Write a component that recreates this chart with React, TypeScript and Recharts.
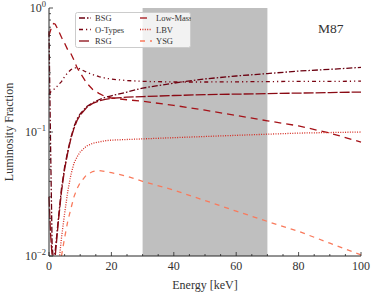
import { LineChart, Line, XAxis, YAxis, ReferenceArea, Legend } from "recharts";

const energies = [0, 0.5, 1, 1.5, 2, 3, 4, 5, 6, 7, 8, 9, 10, 12, 14, 16, 18, 20, 25, 30, 40, 50, 60, 70, 80, 90, 100];

const bsg = [0.65, 0.08, 0.012, 0.009, 0.011, 0.02, 0.035, 0.052, 0.07, 0.09, 0.11, 0.128, 0.14, 0.16, 0.172, 0.182, 0.19, 0.196, 0.21, 0.226, 0.248, 0.268, 0.283, 0.296, 0.31, 0.32, 0.332];
const oTypes = [0.2, 0.21, 0.215, 0.22, 0.225, 0.24, 0.255, 0.28, 0.3, 0.318, 0.328, 0.33, 0.322, 0.304, 0.29, 0.28, 0.272, 0.267, 0.26, 0.256, 0.253, 0.253, 0.254, 0.255, 0.256, 0.256, 0.257];
const rsg = [0.03, 0.015, 0.01, 0.009, 0.01, 0.019, 0.033, 0.05, 0.068, 0.088, 0.107, 0.124, 0.137, 0.157, 0.17, 0.178, 0.183, 0.187, 0.191, 0.193, 0.197, 0.2, 0.202, 0.204, 0.206, 0.208, 0.21];
const lowMass = [0.6, 0.66, 0.72, 0.75, 0.74, 0.66, 0.58, 0.52, 0.46, 0.43, 0.38, 0.33, 0.3, 0.25, 0.22, 0.205, 0.193, 0.188, 0.182, 0.177, 0.164, 0.15, 0.136, 0.123, 0.112, 0.098, 0.083];
const lbv = [0.005, 0.005, 0.005, 0.005, 0.006, 0.008, 0.014, 0.022, 0.033, 0.045, 0.056, 0.063, 0.069, 0.077, 0.081, 0.083, 0.085, 0.086, 0.087, 0.088, 0.09, 0.092, 0.094, 0.096, 0.098, 0.099, 0.1];
const ysg = [0.003, 0.003, 0.003, 0.003, 0.004, 0.006, 0.01, 0.014, 0.019, 0.024, 0.03, 0.035, 0.039, 0.045, 0.048, 0.049, 0.048, 0.047, 0.044, 0.04, 0.034, 0.028, 0.023, 0.019, 0.0158, 0.0127, 0.0102];

const xTicks = [0, 5, 10, 15, 20, 25, 30, 35, 40, 45, 50, 55, 60, 65, 70, 75, 80, 85, 90, 95, 100];
const yTicks = [0.01, 0.02, 0.03, 0.04, 0.05, 0.06, 0.07, 0.08, 0.09, 0.1, 0.2, 0.3, 0.4, 0.5, 0.6, 0.7, 0.8, 0.9, 1];
const band = [30, 70];

const series = [
  { key: "bsg", name: "BSG", color: "#6b0010", dash: "6 2 1.5 2" },
  { key: "oTypes", name: "O-Types", color: "#7a0412", dash: "4 3 1.2 3 1.2 3" },
  { key: "rsg", name: "RSG", color: "#8a0a14", dash: "10 2" },
  { key: "lowMass", name: "Low-Mass", color: "#a51218", dash: "7 5" },
  { key: "lbv", name: "LBV", color: "#d42a20", dash: "1 1.4" },
  { key: "ysg", name: "YSG", color: "#f97a5c", dash: "5 5" },
];

const data = energies.map((e, i) => ({
  e,
  bsg: bsg[i],
  oTypes: oTypes[i],
  rsg: rsg[i],
  lowMass: lowMass[i],
  lbv: lbv[i],
  ysg: ysg[i],
}));

const FONT = "'Liberation Serif', 'DejaVu Serif', serif";
const AX = "#262626";

const isMajorX = (v: number) => v % 20 === 0;
const isMajorY = (v: number) => Math.abs(Math.log10(v) - Math.round(Math.log10(v))) < 1e-6;

const BottomTick = ({ x, y, payload }: any) => {
  const major = isMajorX(payload.value);
  return (
    <g>
      <line x1={x} x2={x} y1={y} y2={y - (major ? 4 : 2)} stroke={AX} strokeWidth={0.8} />
      {major && (
        <text x={x} y={y + 14} textAnchor="middle" fontFamily={FONT} fontSize={12} fill="#333">
          {payload.value}
        </text>
      )}
    </g>
  );
};

const TopTick = ({ x, y, payload }: any) => {
  const major = isMajorX(payload.value);
  return <line x1={x} x2={x} y1={y} y2={y + (major ? 4 : 2)} stroke={AX} strokeWidth={0.8} />;
};

const LeftTick = ({ x, y, payload }: any) => {
  const major = isMajorY(payload.value);
  const exp = Math.round(Math.log10(payload.value));
  return (
    <g>
      <line x1={x} x2={x + (major ? 4 : 2)} y1={y} y2={y} stroke={AX} strokeWidth={0.8} />
      {major && (
        <text x={x - 3} y={y + 4} textAnchor="end" fontFamily={FONT} fontSize={12} fill="#333">
          10
          <tspan dy={-5} fontSize={8.5}>
            {exp === 0 ? "0" : "\u2212" + Math.abs(exp)}
          </tspan>
        </text>
      )}
    </g>
  );
};

const RightTick = ({ x, y, payload }: any) => {
  const major = isMajorY(payload.value);
  return <line x1={x} x2={x - (major ? 4 : 2)} y1={y} y2={y} stroke={AX} strokeWidth={0.8} />;
};

const YLabel = ({ viewBox }: any) => (
  <text
    x={viewBox.x + 13}
    y={viewBox.y + viewBox.height / 2}
    transform={`rotate(-90 ${viewBox.x + 13} ${viewBox.y + viewBox.height / 2})`}
    textAnchor="middle"
    fontFamily={FONT}
    fontSize={12}
    fill="#333"
  >
    Luminosity Fraction
  </text>
);

const XLabel = ({ viewBox }: any) => (
  <text
    x={viewBox.x + viewBox.width / 2}
    y={viewBox.y + 33}
    textAnchor="middle"
    fontFamily={FONT}
    fontSize={12}
    fill="#333"
  >
    Energy [keV]
  </text>
);

const LegendBox = () => (
  <svg width={116} height={36} style={{ display: "block" }}>
    <rect x={0.5} y={0.5} width={115} height={35} rx={2} fill="#fff" fillOpacity={0.8} stroke="#ccc" />
    {series.map((s, i) => {
      const col = Math.floor(i / 3);
      const row = i % 3;
      const x0 = 4 + col * 61;
      const yy = 6 + row * 11.5;
      return (
        <g key={s.key}>
          <line x1={x0} x2={x0 + 12} y1={yy} y2={yy} stroke={s.color} strokeWidth={1.3} strokeDasharray={s.dash} />
          <text x={x0 + 16} y={yy + 3} fontFamily={FONT} fontSize={8.5} fill="#333">
            {s.name}
          </text>
        </g>
      );
    })}
  </svg>
);

export default function App() {
  return (
    <div style={{ position: "absolute", left: 0, top: 0, width: 374, height: 298, background: "#fff" }}>
      <LineChart width={374} height={298} data={data} margin={{ top: 8, right: 13, bottom: 0, left: 0 }}>
        <XAxis
          dataKey="e"
          type="number"
          domain={[0, 100]}
          ticks={xTicks}
          interval={0}
          height={42}
          tickSize={0}
          tickMargin={0}
          tickLine={false}
          tick={<BottomTick />}
          axisLine={{ stroke: AX, strokeWidth: 1 }}
          label={<XLabel />}
        />
        <XAxis
          xAxisId="top"
          orientation="top"
          dataKey="e"
          type="number"
          domain={[0, 100]}
          ticks={xTicks}
          interval={0}
          height={0}
          tickSize={0}
          tickMargin={0}
          tickLine={false}
          tick={<TopTick />}
          axisLine={{ stroke: AX, strokeWidth: 1 }}
        />
        <YAxis
          scale="log"
          domain={[0.01, 1]}
          allowDataOverflow
          ticks={yTicks}
          interval={0}
          width={49}
          tickSize={0}
          tickMargin={0}
          tickLine={false}
          tick={<LeftTick />}
          axisLine={{ stroke: AX, strokeWidth: 1 }}
          label={<YLabel />}
        />
        <YAxis
          yAxisId="right"
          orientation="right"
          scale="log"
          domain={[0.01, 1]}
          allowDataOverflow
          ticks={yTicks}
          interval={0}
          width={0}
          tickSize={0}
          tickMargin={0}
          tickLine={false}
          tick={<RightTick />}
          axisLine={{ stroke: AX, strokeWidth: 1 }}
        />
        <ReferenceArea x1={band[0]} x2={band[1]} fill="#bfbfbf" fillOpacity={1} stroke="none" />
        {series.map((s) => (
          <Line
            key={s.key}
            dataKey={s.key}
            name={s.name}
            stroke={s.color}
            strokeWidth={1.3}
            strokeDasharray={s.dash}
            dot={false}
            type="linear"
            isAnimationActive={false}
          />
        ))}
        <Legend
          layout="horizontal"
          verticalAlign="middle"
          align="center"
          content={<LegendBox />}
          wrapperStyle={{ position: "absolute", left: 75, top: 12, width: 116, height: 36 }}
        />
      </LineChart>
      <div
        style={{
          position: "absolute",
          left: 318,
          top: 21,
          fontFamily: FONT,
          fontSize: 13.5,
          color: "#333",
          lineHeight: "16px",
        }}
      >
        M87
      </div>
    </div>
  );
}
